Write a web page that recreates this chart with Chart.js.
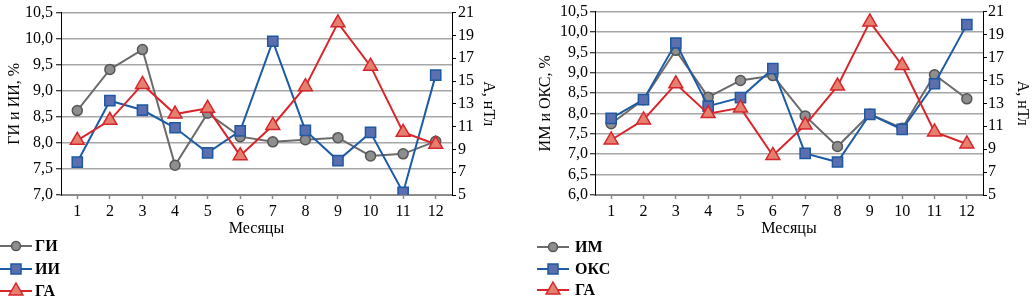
<!DOCTYPE html>
<html>
<head>
<meta charset="utf-8">
<script src="https://cdn.jsdelivr.net/npm/chart.js@4.4.1/dist/chart.umd.min.js"></script>
<style>
  html, body { margin: 0; padding: 0; background: #fff; }
  body { width: 1034px; height: 301px; position: relative; overflow: hidden; font-family: 'Liberation Serif', 'Times New Roman', serif; }
  canvas { position: absolute; top: 0; }
  .leg { position: absolute; height: 20px; line-height: 20px; font-size: 16px; font-weight: bold; color: #000; white-space: nowrap; }
  .leg svg { position: absolute; left: 0; top: 0; }
  .leg span { position: absolute; top: 0; }
</style>
</head>
<body>
<canvas id="c1" width="500" height="240" style="left:0;width:500px;height:240px"></canvas>
<canvas id="c2" width="519" height="240" style="left:515px;width:519px;height:240px"></canvas>
<div id="leg1"></div>
<div id="leg2"></div>
<script>
// ---- data ----
const months = ['1','2','3','4','5','6','7','8','9','10','11','12'];
const giValues  = [8.62, 9.41, 9.79, 7.57, 8.57, 8.12, 8.02, 8.06, 8.10, 7.75, 7.79, 8.03];
const iiValues  = [7.63, 8.81, 8.63, 8.29, 7.81, 8.23, 9.95, 8.24, 7.66, 8.20, 7.05, 9.30];
const gaValues  = [9.8, 11.55, 14.7, 12.1, 12.6, 8.45, 11.1, 14.5, 20.1, 16.3, 10.5, 9.45];
const imValues  = [7.75, 8.34, 9.55, 8.40, 8.81, 8.93, 7.94, 7.19, 7.98, 7.64, 8.95, 8.36];
const oksValues = [7.88, 8.34, 9.73, 8.18, 8.39, 9.10, 7.02, 6.81, 7.98, 7.61, 8.73, 10.18];
const leftTicks1 = [7.0, 7.5, 8.0, 8.5, 9.0, 9.5, 10.0, 10.5];
const leftTicks2 = [6.0, 6.5, 7.0, 7.5, 8.0, 8.5, 9.0, 9.5, 10.0, 10.5];
const rightTicks = [5, 7, 9, 11, 13, 15, 17, 19, 21];
const xTitle = 'Месяцы';
const leftTitle1 = 'ГИ и ИИ, %';
const leftTitle2 = 'ИМ и ОКС, %';
const rightTitle = 'А, нТл';
const names1 = ['ГИ', 'ИИ', 'ГА'];
const names2 = ['ИМ', 'ОКС', 'ГА'];

// ---- styles ----
const STY = {
  gray: { line: '#6b6b6b', fill: '#8e8e8e', border: '#565656', shape: 'circle', r: 5 },
  blue: { line: '#1d5ba6', fill: '#5b6fae', border: '#1e58a3', shape: 'rect', r: 7.2 },
  red:  { line: '#d9262d', fill: '#e4806d', border: '#d6252c', shape: 'triangle', r: 8 }
};

Chart.defaults.font.family = "'Liberation Serif', 'Times New Roman', serif";
Chart.defaults.font.size = 16;
Chart.defaults.color = '#000';

const fmtComma = v => Number(v).toFixed(1).replace('.', ',');

function ds(label, data, st, axis, order) {
  return {
    label, data, yAxisID: axis, order,
    borderColor: st.line, borderWidth: 2,
    pointStyle: st.shape, pointRadius: st.r,
    pointBackgroundColor: st.fill, pointBorderColor: st.border, pointBorderWidth: 1.5,
    tension: 0, fill: false
  };
}

function makeChart(id, names, s1, s2, lTicks, lTitle, cfg) {
  const lmin = lTicks[0], lmax = lTicks[lTicks.length - 1];
  return new Chart(document.getElementById(id), {
    type: 'line',
    data: {
      labels: months,
      datasets: [
        ds(names[0], s1, STY.gray, 'yL', 3),
        ds(names[1], s2, STY.blue, 'yL', 2),
        ds(names[2], gaValues, STY.red, 'yR', 1)
      ]
    },
    options: {
      responsive: false,
      animation: false,
      devicePixelRatio: 1,
      layout: { padding: { top: 10, left: 0, right: 0, bottom: 0 } },
      plugins: { legend: { display: false }, tooltip: { enabled: false } },
      scales: {
        x: {
          type: 'category', offset: true,
          grid: { drawOnChartArea: false, drawTicks: true, tickLength: 4, tickColor: '#8c8c8c', tickWidth: 1.5 },
          border: { display: true, color: '#8c8c8c', width: 2 },
          ticks: { autoSkip: false, maxRotation: 0, padding: 3, color: '#000' },
          title: { display: true, text: xTitle, padding: { top: 0, bottom: 2 } },
          afterFit: s => { s.height = 45; }
        },
        yL: {
          type: 'linear', position: 'left', min: lmin, max: lmax,
          afterBuildTicks: s => { s.ticks = lTicks.map(v => ({ value: v })); },
          grid: { color: '#a6a6a6', lineWidth: 1.5, drawTicks: true, tickLength: 5, tickColor: '#000', tickWidth: 1 },
          border: { display: true, color: '#000', width: 1 },
          ticks: { autoSkip: false, padding: cfg.lPad, callback: v => fmtComma(v) },
          title: { display: true, text: lTitle, padding: { top: cfg.lTitlePad, bottom: 0 } },
          afterFit: s => { s.width = cfg.lWidth; }
        },
        yR: {
          type: 'linear', position: 'right', min: 5, max: 21,
          afterBuildTicks: s => { s.ticks = rightTicks.map(v => ({ value: v })); },
          grid: { drawOnChartArea: false, drawTicks: true, tickLength: 4, tickColor: '#000', tickWidth: 1 },
          border: { display: true, color: '#000', width: 1 },
          ticks: { autoSkip: false, padding: cfg.rPad, callback: v => String(v) },
          title: { display: true, text: rightTitle, padding: { top: cfg.rTitlePad, bottom: 0 } },
          afterFit: s => { s.width = cfg.rWidth; }
        }
      }
    }
  });
}

makeChart('c1', names1, giValues, iiValues, leftTicks1, leftTitle1,
  { lWidth: 61, lPad: 3, lTitlePad: 5, rWidth: 48, rPad: 2, rTitlePad: 2 });
makeChart('c2', names2, imValues, oksValues, leftTicks2, leftTitle2,
  { lWidth: 80, lPad: 2, lTitlePad: 21, rWidth: 51, rPad: 1, rTitlePad: 2 });

// ---- legends (HTML) ----
function icon(st) {
  let m = '';
  const cx = 16, cy = 10;
  if (st.shape === 'circle') m = `<circle cx="${cx}" cy="${cy}" r="4.5" fill="${st.fill}" stroke="${st.border}" stroke-width="1.5"/>`;
  else if (st.shape === 'rect') m = `<rect x="${cx-5}" y="${cy-5}" width="10" height="10" fill="${st.fill}" stroke="${st.border}" stroke-width="1.5"/>`;
  else m = `<polygon points="${cx},${cy-8} ${cx+6.9},${cy+4} ${cx-6.9},${cy+4}" fill="${st.fill}" stroke="${st.border}" stroke-width="1.5"/>`;
  return `<svg width="33" height="20"><line x1="0" y1="${cy}" x2="32" y2="${cy}" stroke="${st.line}" stroke-width="2"/>${m}</svg>`;
}
function buildLegend(el, names, x, textX, ys) {
  const sts = [STY.gray, STY.blue, STY.red];
  el.innerHTML = names.map((n, i) =>
    `<div class="leg" style="left:${x}px;top:${ys[i] - 10}px;width:120px">${icon(sts[i])}<span style="left:${textX - x}px">${n}</span></div>`
  ).join('');
}
buildLegend(document.getElementById('leg1'), names1, 0, 35, [246, 269, 291]);
buildLegend(document.getElementById('leg2'), names2, 537, 575, [247, 269, 290]);
</script>
</body>
</html>
